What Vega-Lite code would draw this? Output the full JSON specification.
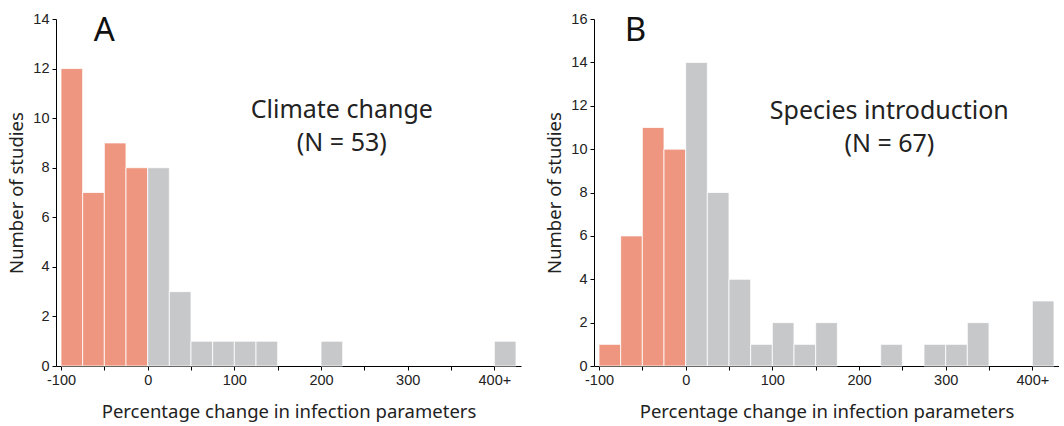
{
  "$schema": "https://vega.github.io/schema/vega-lite/v6.json",
  "padding": {"left": 7, "top": 11, "right": 0, "bottom": 8},
  "spacing": 24,
  "config": {
    "view": {"stroke": null},
    "font": "Noto Sans",
    "axis": {
      "domainColor": "#000000",
      "domainWidth": 1,
      "tickColor": "#000000",
      "tickWidth": 1,
      "tickSize": 4,
      "grid": false,
      "labelFont": "Liberation Sans",
      "labelFontSize": 14.5,
      "labelColor": "#222222",
      "labelPadding": 3,
      "titleFont": "Noto Sans",
      "titleFontSize": 18.5,
      "titleFontWeight": "normal",
      "titleColor": "#222222"
    }
  },
  "datasets": {
    "bars": [
      {"panel": "A", "start": -100, "end": -75, "count": 12, "direction": "decrease"},
      {"panel": "A", "start": -75, "end": -50, "count": 7, "direction": "decrease"},
      {"panel": "A", "start": -50, "end": -25, "count": 9, "direction": "decrease"},
      {"panel": "A", "start": -25, "end": 0, "count": 8, "direction": "decrease"},
      {"panel": "A", "start": 0, "end": 25, "count": 8, "direction": "increase"},
      {"panel": "A", "start": 25, "end": 50, "count": 3, "direction": "increase"},
      {"panel": "A", "start": 50, "end": 75, "count": 1, "direction": "increase"},
      {"panel": "A", "start": 75, "end": 100, "count": 1, "direction": "increase"},
      {"panel": "A", "start": 100, "end": 125, "count": 1, "direction": "increase"},
      {"panel": "A", "start": 125, "end": 150, "count": 1, "direction": "increase"},
      {"panel": "A", "start": 200, "end": 225, "count": 1, "direction": "increase"},
      {"panel": "A", "start": 400, "end": 425, "count": 1, "direction": "increase"},
      {"panel": "B", "start": -100, "end": -75, "count": 1, "direction": "decrease"},
      {"panel": "B", "start": -75, "end": -50, "count": 6, "direction": "decrease"},
      {"panel": "B", "start": -50, "end": -25, "count": 11, "direction": "decrease"},
      {"panel": "B", "start": -25, "end": 0, "count": 10, "direction": "decrease"},
      {"panel": "B", "start": 0, "end": 25, "count": 14, "direction": "increase"},
      {"panel": "B", "start": 25, "end": 50, "count": 8, "direction": "increase"},
      {"panel": "B", "start": 50, "end": 75, "count": 4, "direction": "increase"},
      {"panel": "B", "start": 75, "end": 100, "count": 1, "direction": "increase"},
      {"panel": "B", "start": 100, "end": 125, "count": 2, "direction": "increase"},
      {"panel": "B", "start": 125, "end": 150, "count": 1, "direction": "increase"},
      {"panel": "B", "start": 150, "end": 175, "count": 2, "direction": "increase"},
      {"panel": "B", "start": 225, "end": 250, "count": 1, "direction": "increase"},
      {"panel": "B", "start": 275, "end": 300, "count": 1, "direction": "increase"},
      {"panel": "B", "start": 300, "end": 325, "count": 1, "direction": "increase"},
      {"panel": "B", "start": 325, "end": 350, "count": 2, "direction": "increase"},
      {"panel": "B", "start": 400, "end": 425, "count": 3, "direction": "increase"}
    ],
    "letters": [
      {"panel": "A", "x": -50, "y": 13.1, "text": "A"},
      {"panel": "B", "x": -58, "y": 15.0, "text": "B"}
    ],
    "notes": [
      {"panel": "A", "x": 224, "y": 10.0, "text": "Climate change\n(N = 53)"},
      {"panel": "B", "x": 235, "y": 11.4, "text": "Species introduction\n(N = 67)"}
    ]
  },
  "hconcat": [
    {
      "width": 465,
      "height": 347,
      "layer": [
        {
          "data": {"name": "bars"},
          "transform": [{"filter": "datum.panel == 'A'"}],
          "mark": {"type": "bar", "stroke": "#ffffff", "strokeWidth": 0.8, "orient": "vertical"},
          "encoding": {
            "x": {"field": "start", "type": "quantitative",
              "scale": {"domain": [-100, 425], "nice": false, "zero": false},
              "axis": {"title": "Percentage change in infection parameters", "titlePadding": 16,
                "values": [-100,-75,-50,-25,0,25,50,75,100,125,150,175,200,225,250,275,300,325,350,375,400,425],
                "labelExpr": "datum.value == 400 ? '400+' : (datum.value % 100 == 0 ? '' + datum.value : '')",
                "labelOverlap": false, "labelFlush": false}},
            "x2": {"field": "end"},
            "y": {"field": "count", "type": "quantitative",
              "scale": {"domain": [0, 14], "nice": false},
              "axis": {"title": "Number of studies", "values": [0,2,4,6,8,10,12,14], "titlePadding": 6}},
            "y2": {"datum": 0},
            "color": {"field": "direction", "type": "nominal",
              "scale": {"domain": ["decrease", "increase"], "range": ["#EE967F", "#C7C8CA"]},
              "legend": null}
          }
        },
        {
          "data": {"name": "letters"},
          "transform": [{"filter": "datum.panel == 'A'"}],
          "mark": {"type": "text", "fontSize": 33, "font": "Noto Sans", "color": "#111111", "baseline": "alphabetic", "align": "center"},
          "encoding": {
            "x": {"field": "x", "type": "quantitative"},
            "y": {"field": "y", "type": "quantitative"},
            "text": {"field": "text"}
          }
        },
        {
          "data": {"name": "notes"},
          "transform": [{"filter": "datum.panel == 'A'"}],
          "mark": {"type": "text", "fontSize": 25, "font": "Noto Sans", "color": "#222222", "baseline": "alphabetic", "align": "center", "lineBreak": "\n", "lineHeight": 33},
          "encoding": {
            "x": {"field": "x", "type": "quantitative"},
            "y": {"field": "y", "type": "quantitative"},
            "text": {"field": "text"}
          }
        }
      ]
    },
    {
      "width": 465,
      "height": 347,
      "layer": [
        {
          "data": {"name": "bars"},
          "transform": [{"filter": "datum.panel == 'B'"}],
          "mark": {"type": "bar", "stroke": "#ffffff", "strokeWidth": 0.8, "orient": "vertical"},
          "encoding": {
            "x": {"field": "start", "type": "quantitative",
              "scale": {"domain": [-100, 425], "nice": false, "zero": false},
              "axis": {"title": "Percentage change in infection parameters", "titlePadding": 16,
                "values": [-100,-75,-50,-25,0,25,50,75,100,125,150,175,200,225,250,275,300,325,350,375,400,425],
                "labelExpr": "datum.value == 400 ? '400+' : (datum.value % 100 == 0 ? '' + datum.value : '')",
                "labelOverlap": false, "labelFlush": false}},
            "x2": {"field": "end"},
            "y": {"field": "count", "type": "quantitative",
              "scale": {"domain": [0, 16], "nice": false},
              "axis": {"title": "Number of studies", "values": [0,2,4,6,8,10,12,14,16], "titlePadding": 6}},
            "y2": {"datum": 0},
            "color": {"field": "direction", "type": "nominal",
              "scale": {"domain": ["decrease", "increase"], "range": ["#EE967F", "#C7C8CA"]},
              "legend": null}
          }
        },
        {
          "data": {"name": "letters"},
          "transform": [{"filter": "datum.panel == 'B'"}],
          "mark": {"type": "text", "fontSize": 33, "font": "Noto Sans", "color": "#111111", "baseline": "alphabetic", "align": "center"},
          "encoding": {
            "x": {"field": "x", "type": "quantitative"},
            "y": {"field": "y", "type": "quantitative"},
            "text": {"field": "text"}
          }
        },
        {
          "data": {"name": "notes"},
          "transform": [{"filter": "datum.panel == 'B'"}],
          "mark": {"type": "text", "fontSize": 25, "font": "Noto Sans", "color": "#222222", "baseline": "alphabetic", "align": "center", "lineBreak": "\n", "lineHeight": 33},
          "encoding": {
            "x": {"field": "x", "type": "quantitative"},
            "y": {"field": "y", "type": "quantitative"},
            "text": {"field": "text"}
          }
        }
      ]
    }
  ]
}
